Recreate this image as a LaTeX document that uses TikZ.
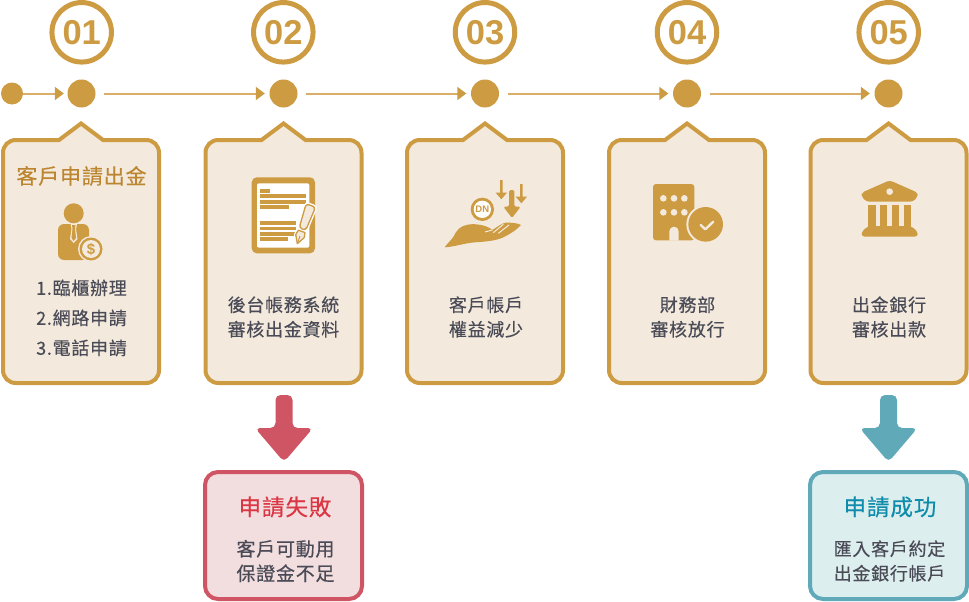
\documentclass[tikz,border=0pt]{standalone}
\usepackage{fontspec}
\setmainfont{Noto Sans CJK TC}
\newfontfamily\numfont{Liberation Sans}[BoldFont={Liberation Sans Bold}]
\usetikzlibrary{arrows.meta,calc}
\definecolor{gold}{HTML}{CD9B42}
\definecolor{goldline}{HTML}{D9AE69}
\definecolor{cream}{HTML}{F3EADD}
\definecolor{titlegold}{HTML}{BC8630}
\definecolor{bodyink}{HTML}{4A4B57}
\definecolor{redline}{HTML}{CF5565}
\definecolor{redfill}{HTML}{F2DEDE}
\definecolor{redtitle}{HTML}{DB3644}
\definecolor{tealline}{HTML}{5FA9B9}
\definecolor{tealfill}{HTML}{DCEEEE}
\definecolor{tealtitle}{HTML}{0F8CAB}
\newcommand{\pxfont}[2]{\fontsize{#1}{#2}\selectfont\addfontfeature{LetterSpace=4,FakeBold=0.35}}
\tikzset{
  x=1pt,y=-1pt,
  numring/.style={circle,draw=gold,line width=5pt,minimum size=59.5pt,inner sep=0pt,text=gold,font=\numfont\bfseries\fontsize{34.5}{34.5}\selectfont},
  bigdot/.style={circle,fill=gold,minimum size=28pt,inner sep=0pt},
  smalldot/.style={circle,fill=gold,minimum size=22pt,inner sep=0pt},
  flow/.style={draw=goldline,line width=2pt,-{Triangle[length=9pt,width=13pt,color=gold]}},
  cardline/.style={draw=gold,fill=cream,line width=4pt,line join=miter},
  cardtitle/.style={text=titlegold,font=\pxfont{21}{24}},
  cardbody/.style={text=bodyink,align=center,font=\pxfont{18}{24.5}},
  listbody/.style={text=bodyink,align=center,font=\pxfont{18}{30}},
  failbox/.style={draw=redline,fill=redfill,line width=4pt,rounded corners=13pt,minimum width=157pt,minimum height=127pt,inner sep=0pt},
  okbox/.style={draw=tealline,fill=tealfill,line width=4pt,rounded corners=13pt,minimum width=157pt,minimum height=127pt,inner sep=0pt},
  zoomed/.style={x=0.33333pt,y=-0.33333pt},
  glyph/.style={fill=gold,draw=none},
}
\newcommand{\cardat}[2]{%
  \coordinate (#1) at (#2,262);
  \draw[cardline] (#2-78,153) .. controls (#2-78,145.5) and (#2-72.5,140) .. (#2-65,140) -- (#2-22,140) -- (#2,123.5) -- (#2+22,140) -- (#2+65,140) .. controls (#2+72.5,140) and (#2+78,145.5) .. (#2+78,153) -- (#2+78,370) .. controls (#2+78,377.5) and (#2+72.5,383) .. (#2+65,383) -- (#2-65,383) .. controls (#2-72.5,383) and (#2-78,377.5) .. (#2-78,370) -- cycle;
}
\newcommand{\downblock}[3]{% fill colour, x-centre, name
  \fill[#1,rounded corners=5pt] (#2-8.5,395) -- (#2+8.5,395) -- (#2+8.5,428) -- (#2+29,428) -- (#2,462) -- (#2-29,428) -- (#2-8.5,428) -- cycle;
}
\begin{document}
\begin{tikzpicture}
\useasboundingbox (0,0) rectangle (969,602);
\fill[white] (0,0) rectangle (969,602);
% number rings
\node[numring] (n1) at (81.7,32.3) {\raisebox{-1pt}{01}};
\node[numring] (n2) at (283.3,32.3) {\raisebox{-1pt}{02}};
\node[numring] (n3) at (485,32.3) {\raisebox{-1pt}{03}};
\node[numring] (n4) at (687,32.3) {\raisebox{-1pt}{04}};
\node[numring] (n5) at (888.7,32.3) {\raisebox{-1pt}{05}};
% timeline
\node[smalldot] (s0) at (12,93.5) {};
\node[bigdot] (d1) at (81.5,93.5) {};
\node[bigdot] (d2) at (283.5,93.5) {};
\node[bigdot] (d3) at (485,93.5) {};
\node[bigdot] (d4) at (687,93.5) {};
\node[bigdot] (d5) at (888.5,93.5) {};
\draw[flow,shorten >=3.5pt] (s0) -- (d1);
\draw[flow,shorten <=8.5pt,shorten >=4.5pt] (d1) -- (d2);
\draw[flow,shorten <=8.5pt,shorten >=4.5pt] (d2) -- (d3);
\draw[flow,shorten <=8.5pt,shorten >=4.5pt] (d3) -- (d4);
\draw[flow,shorten <=8.5pt,shorten >=4.5pt] (d4) -- (d5);
% cards
\cardat{c1}{81}
\cardat{c2}{283.5}
\cardat{c3}{485}
\cardat{c4}{687}
\cardat{c5}{888.5}
% card texts
\node[cardtitle] (t1) at (81.5,176) {客戶申請出金};
\node[listbody] (b1) at (81.5,318) {1.臨櫃辦理\\2.網路申請\\3.電話申請};
\node[cardbody] (b2) at (283.5,317) {後台帳務系統\\審核出金資料};
\node[cardbody] (b3) at (486,317) {客戶帳戶\\權益減少};
\node[cardbody] (b4) at (687.5,317) {財務部\\審核放行};
\node[cardbody] (b5) at (889,317) {出金銀行\\審核出款};
% person icon
\fill[gold] (73.7,213.3) circle[radius=10];
\fill[glyph,rounded corners=6pt] (58,260) -- (58,224) -- (89,224) -- (89,260) -- cycle;
\fill[cream] (70.5,224) -- (77,224) -- (76,229) -- (77.5,239) -- (73.7,243) -- (70,239) -- (71.5,229) -- cycle;
\fill[gold] (72,225) -- (75.5,225) -- (75,229) -- (76,238) -- (73.7,241) -- (71.5,238) -- (72.5,229) -- cycle;
\fill[cream] (91,249) circle[radius=13];
\fill[gold] (91,249) circle[radius=11.5];
\fill[cream] (91,249) circle[radius=9];
\node[text=gold,inner sep=0pt,font=\numfont\bfseries\fontsize{15}{15}\selectfont] (dollar) at (91,249) {\$};
% document icon
\fill[gold,rounded corners=5pt] (251.7,177.3) rectangle (315,253.3);
\fill[white,rounded corners=2pt] (257,183.3) rectangle (309.3,247.7);
\fill[gold] (260,189) rectangle (270,193);
\fill[gold] (260,194.3) rectangle (306,198.3);
\fill[gold] (260,200) rectangle (306,204);
\fill[gold] (260,205.3) rectangle (289.3,209);
\fill[gold] (260,221) rectangle (296,225);
\fill[gold] (260,226.7) rectangle (296,230.3);
\fill[gold] (260,232) rectangle (296,235.7);
\fill[gold] (260,237.3) rectangle (288.3,241);
\begin{scope}[shift={(311,205)},rotate=-19.5]
  \path[fill=white,draw=white,line width=3pt,rounded corners=3pt] (-5.5,0) -- (5.5,0) -- (4,26) -- (-4,26) -- cycle;
  \path[fill=white,draw=white,line width=2.5pt] (-4,27) -- (4,27) -- (5,33) -- (0,42) -- (-5,33) -- cycle;
  \draw[gold,fill=cream,line width=1.3pt,rounded corners=3pt] (-5,0.5) -- (5,0.5) -- (3.5,25.5) -- (-3.5,25.5) -- cycle;
  \draw[gold,fill=cream,line width=1.3pt,line join=round] (-3.5,28) -- (3.5,28) -- (4.5,33) -- (0,41) -- (-4.5,33) -- cycle;
  \draw[gold,line width=1pt] (0,41) -- (0,33);
\end{scope}
% hand icon
\begin{scope}[shift={(435,170)},zoomed]
  \fill[gold] (30,230) .. controls (42,215) and (55,205) .. (62,188)
    .. controls (72,170) and (95,160) .. (125,163)
    .. controls (145,165) and (165,172) .. (172,180)
    .. controls (185,172) and (200,160) .. (212,158)
    .. controls (230,157) and (250,160) .. (258,165)
    .. controls (245,180) and (225,192) .. (205,202)
    .. controls (180,213) and (150,215) .. (120,217)
    .. controls (90,219) and (60,230) .. (30,232) -- cycle;
  \draw[cream,line width=1pt] (172,180) -- (150,186);
  \draw[cream,line width=1pt] (175,188) -- (205,163);
  \draw[cream,line width=1pt] (190,190) -- (222,165);
  \fill[gold] (142,118) circle[radius=35];
  \fill[white] (142,118) circle[radius=26];
  \node[text=gold,inner sep=0pt,font=\numfont\bfseries\fontsize{9.5}{9.5}\selectfont] (dn) at (142,118) {DN};
  \fill[gold,rounded corners=1.5pt] (222,60) -- (238,60) -- (238,110) -- (257,110) -- (231,144) -- (205,110) -- (222,110) -- cycle;
  \fill[gold] (195,30) -- (203,30) -- (203,68) -- (216,68) -- (199,88) -- (182,68) -- (195,68) -- cycle;
  \fill[gold] (255,42) -- (263,42) -- (263,80) -- (276,80) -- (259,100) -- (242,80) -- (255,80) -- cycle;
\end{scope}
% building icon
\begin{scope}[shift={(640,170)},zoomed]
  \fill[gold,rounded corners=3pt] (39,42) rectangle (163,211);
  \foreach \wx in {70,102,133}{\foreach \wy in {85,127}{\fill[cream] (\wx,\wy) circle[radius=10];}}
  \fill[cream] (88,212) -- (88,184) arc[start angle=180,end angle=360,radius=14] -- (116,212) -- cycle;
  \fill[cream] (197,163) circle[radius=58];
  \fill[gold] (197,163) circle[radius=52];
  \draw[cream,line width=2.4pt,line cap=round,line join=round] (182,165) -- (196,178) -- (220,155);
\end{scope}
% bank icon
\begin{scope}[shift={(845,170)},zoomed]
  \fill[gold,rounded corners=3pt] (134,31) -- (218,68) -- (218,80) -- (204,95) -- (64,95) -- (50,80) -- (50,68) -- cycle;
  \fill[cream] (134,65) circle[radius=10];
  \foreach \bx in {70,105,141,177}{\fill[gold] (\bx,105) rectangle (\bx+22,170);}
  \fill[gold,rounded corners=3pt] (70,168) -- (198,168) -- (218,185) -- (218,200) -- (50,200) -- (50,185) -- cycle;
\end{scope}
% outcomes
\node[failbox] (r1) at (283.5,535.5) {};
\node[okbox] (r2) at (888.5,535.5) {};
\downblock{redline}{284}{a1}
\downblock{tealline}{888.5}{a2}
\node[text=redtitle,font=\pxfont{22.5}{26}] (rt) at (285,507) {申請失敗};
\node[cardbody,font=\pxfont{19}{24.5}] (rb) at (285.5,561) {客戶可動用\\保證金不足};
\node[text=tealtitle,font=\pxfont{22.5}{26}] (gt) at (890,507) {申請成功};
\node[cardbody,font=\pxfont{18}{24.5}] (gb) at (889.5,561) {匯入客戶約定\\出金銀行帳戶};
\end{tikzpicture}
\end{document}
